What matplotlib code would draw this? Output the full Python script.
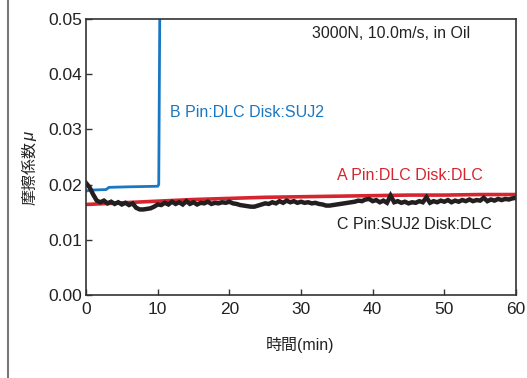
import numpy as np
import matplotlib
matplotlib.use("Agg")
import matplotlib.pyplot as plt
from matplotlib.lines import Line2D

plt.rcParams['font.family'] = ['Liberation Sans', 'Noto Sans CJK JP', 'DejaVu Sans']

# A Pin:DLC Disk:DLC (red)
a_time = [0, 5, 10, 15, 20, 25, 30, 35, 40, 45, 50, 55, 60]
a_mu = [0.0164, 0.0167, 0.0170, 0.0173, 0.0175, 0.0177, 0.0178, 0.0179, 0.0180,
        0.0181, 0.0181, 0.0182, 0.0182]

# B Pin:DLC Disk:SUJ2 (blue)
b_time = [0, 0.5, 2.8, 3.2, 6.0, 10.0, 10.15, 10.3]
b_mu = [0.0188, 0.0190, 0.0191, 0.0195, 0.0196, 0.0197, 0.0200, 0.0520]

# C Pin:SUJ2 Disk:DLC (black), every 0.5 min
c_time = [i * 0.5 for i in range(121)]
c_mu = [0.0203, 0.0195, 0.0182, 0.0171, 0.0168, 0.0171, 0.0166, 0.0169, 0.0165, 0.0168,
        0.0164, 0.0167, 0.0163, 0.0166, 0.0158, 0.0155, 0.0155, 0.0156, 0.0157, 0.0160,
        0.0164, 0.0163, 0.0167, 0.0164, 0.0169, 0.0165, 0.0168, 0.0164, 0.0170, 0.0165,
        0.0168, 0.0164, 0.0167, 0.0166, 0.0169, 0.0165, 0.0167, 0.0166, 0.0168, 0.0167,
        0.0169, 0.0166, 0.0165, 0.0163, 0.0162, 0.0161, 0.0160, 0.0160, 0.0162, 0.0164,
        0.0166, 0.0165, 0.0168, 0.0166, 0.0170, 0.0167, 0.0171, 0.0168, 0.0170, 0.0167,
        0.0169, 0.0167, 0.0168, 0.0166, 0.0167, 0.0165, 0.0164, 0.0162, 0.0162, 0.0163,
        0.0164, 0.0165, 0.0166, 0.0167, 0.0168, 0.0169, 0.0171, 0.0170, 0.0173, 0.0174,
        0.0170, 0.0172, 0.0168, 0.0171, 0.0167, 0.0180, 0.0168, 0.0170, 0.0167, 0.0169,
        0.0166, 0.0168, 0.0167, 0.0170, 0.0168, 0.0177, 0.0167, 0.0170, 0.0168, 0.0171,
        0.0169, 0.0172, 0.0168, 0.0171, 0.0169, 0.0172, 0.0170, 0.0173, 0.0170, 0.0172,
        0.0171, 0.0176, 0.0170, 0.0173, 0.0171, 0.0174, 0.0172, 0.0174, 0.0173, 0.0175,
        0.0176]

x_ticks = [0, 10, 20, 30, 40, 50, 60]
y_ticks = [0.00, 0.01, 0.02, 0.03, 0.04, 0.05]

RED = "#d7252f"
BLUE = "#1a78c2"
BLACK = "#231f20"
AXC = "#333333"
TXT = "#222222"

fig = plt.figure(figsize=(5.27, 3.78), dpi=100)
ax = fig.add_axes([86 / 527, 1 - 295 / 378, 430 / 527, 276 / 378])

ax.plot(a_time, a_mu, color=RED, lw=2.6, solid_capstyle="butt")
ax.plot(b_time, b_mu, color=BLUE, lw=2.0, solid_capstyle="butt")
ax.plot(c_time, c_mu, color=BLACK, lw=3.2, solid_joinstyle="miter")

ax.set_xlim(0, 60)
ax.set_ylim(0, 0.05)
ax.set_xticks(x_ticks)
ax.set_yticks(y_ticks)
ax.set_yticklabels([f"{v:.2f}" for v in y_ticks])
ax.tick_params(direction="in", length=4, width=1, color=AXC, labelsize=12.5,
               labelcolor=TXT)
ax.tick_params(axis="y", pad=3)
ax.tick_params(axis="x", pad=5)
for s in ax.spines.values():
    s.set_color(AXC)
    s.set_linewidth(1.2)

ax.text(11.7, 0.033, "B Pin:DLC Disk:SUJ2", color=BLUE, fontsize=11.5, va="center")
ax.text(35.0, 0.0217, "A Pin:DLC Disk:DLC", color=RED, fontsize=11.5, va="center")
ax.text(35.0, 0.0127, "C Pin:SUJ2 Disk:DLC", color=BLACK, fontsize=11.5, va="center")
ax.text(31.5, 0.0473, "3000N, 10.0m/s, in Oil", color=TXT, fontsize=11.5, va="center")

fig.text(300 / 527, 1 - 345 / 378, "時間(min)", fontsize=11.5, ha="center", va="center",
         color=TXT)
# y label: CJK part plus italic mu
fig.text(30 / 527, 1 - 173 / 378, "摩擦係数", fontsize=11.5, ha="center", va="center",
         rotation=90, color=TXT)
fig.text(30 / 527, 1 - 136 / 378, "μ", fontsize=12, ha="center", va="center",
         rotation=90, color=TXT, style="italic")

# page border line on the left
fig.add_artist(Line2D([8 / 527, 8 / 527], [0, 1], transform=fig.transFigure,
                      color="#777777", lw=1.5))

fig.savefig("out.png", dpi=100)
